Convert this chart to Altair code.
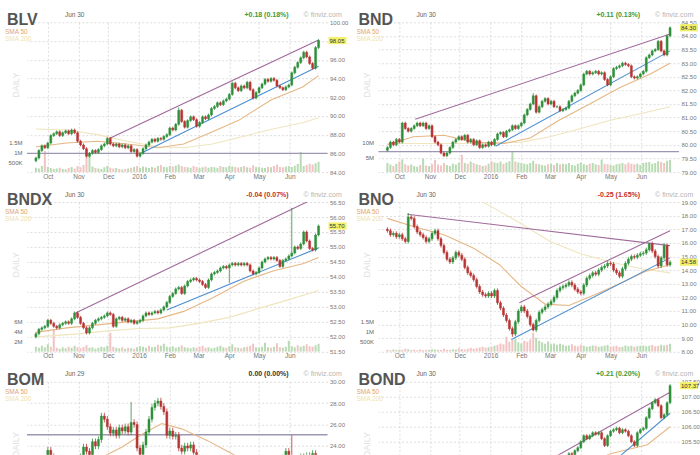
import altair as alt
import pandas as pd

# ---------------- categories (dates / months) ----------------
DATES = pd.date_range("2015-09-19", "2016-06-30", freq="3D")  # 96 sampled sessions
MONTHS = ["2015-10-01", "2015-11-01", "2015-12-01", "2016-01-01", "2016-02-01",
          "2016-03-01", "2016-04-01", "2016-05-01", "2016-06-01"]
X_DOMAIN = ["2015-09-15", "2016-07-04"]

# ---------------- BLV ----------------
BLV_CLOSE = [85.5, 86.3, 86.8, 86.6, 87.1, 87.9, 88.1, 88.3, 87.9, 88.2, 88.4, 88.1,
             88.5, 88.2, 87.3, 86.9, 86.5, 85.7, 86.0, 86.3, 86.1, 86.4, 86.8, 87.0,
             87.6, 87.0, 86.8, 87.0, 86.7, 86.9, 86.6, 86.8, 86.2, 86.4, 85.7, 86.0,
             86.5, 86.9, 87.2, 87.5, 87.3, 87.6, 87.5, 87.8, 88.0, 88.7, 88.5, 89.1,
             90.6, 89.4, 88.8, 89.5, 89.9, 89.6, 88.9, 89.3, 89.9, 89.7, 90.1, 90.8,
             91.0, 91.4, 91.2, 91.6, 91.8, 92.3, 93.5, 93.0, 92.7, 93.2, 93.0, 93.6,
             92.8, 91.9, 92.5, 93.0, 93.4, 93.9, 93.7, 94.0, 93.8, 93.2, 93.0, 92.8,
             93.1, 93.3, 94.6, 95.2, 95.7, 96.2, 96.8, 96.3, 95.6, 95.1, 97.3, 98.05]
BLV_VOL_K = [220, 180, 300, 1050, 250, 200, 150, 180, 220, 160, 140, 200,
             260, 180, 300, 240, 350, 900, 950, 280, 200, 180, 160, 240,
             300, 220, 180, 200, 150, 130, 160, 180, 220, 250, 300, 200,
             280, 240, 200, 260, 220, 300, 350, 260, 240, 300, 280, 320,
             380, 300, 260, 240, 220, 300, 260, 200, 240, 280, 220, 260,
             240, 220, 300, 260, 240, 320, 280, 250, 230, 260, 300, 240,
             220, 340, 260, 240, 220, 200, 260, 240, 300, 380, 260, 240,
             280, 300, 260, 320, 400, 1000, 300, 360, 420, 380, 440, 520]
BLV_SMA50_D = ["2015-09-19", "2015-10-20", "2015-11-20", "2015-12-20", "2016-01-20", "2016-02-15",
               "2016-03-08", "2016-04-10", "2016-05-13", "2016-06-14", "2016-06-30"]
BLV_SMA50 = [86.7, 87.1, 87.3, 87.0, 86.6, 87.0, 88.0, 89.5, 91.7, 93.1, 94.3]
BLV_SMA200_D = ["2015-09-19", "2015-10-20", "2015-11-20", "2015-12-20", "2016-01-20", "2016-02-15",
                "2016-03-15", "2016-04-15", "2016-05-15", "2016-06-15", "2016-06-30"]
BLV_SMA200 = [88.6, 88.5, 88.0, 87.3, 86.7, 86.6, 87.0, 87.8, 88.6, 89.3, 89.8]
BLV_UP_D, BLV_UP = ["2015-12-02", "2016-06-30"], [87.6, 98.1]
BLV_LO_D, BLV_LO = ["2016-01-03", "2016-06-30"], [86.0, 95.3]
BLV_H = [86.0]

# ---------------- BND ----------------
BND_CLOSE = [79.9, 80.1, 80.0, 80.2, 80.1, 80.8, 80.6, 80.5, 80.6, 80.7, 80.8, 80.7,
             80.8, 80.6, 80.7, 80.3, 80.1, 80.0, 79.7, 79.6, 79.7, 79.9, 80.1, 80.2,
             80.3, 80.2, 80.35, 80.1, 80.2, 80.0, 80.15, 79.9, 80.0, 79.95, 80.1, 80.0,
             80.2, 80.4, 80.45, 80.3, 80.5, 80.55, 80.7, 80.6, 80.7, 80.8, 81.1, 81.3,
             81.5, 81.8, 81.2, 81.4, 81.6, 81.7, 81.5, 81.6, 81.4, 81.4, 81.25, 81.3,
             81.35, 81.6, 81.8, 81.9, 82.0, 82.2, 82.6, 82.7, 82.6, 82.65, 82.7, 82.6,
             82.65, 82.4, 82.2, 82.5, 82.8, 82.85, 82.9, 83.0, 82.95, 82.9, 82.5, 82.45,
             82.5, 82.6, 82.7, 83.2, 83.3, 83.45, 83.5, 83.8, 83.45, 83.3, 84.0, 84.3]
BND_VOL_M = [3.0, 2.5, 2.0, 2.8, 3.5, 4.2, 2.6, 2.2, 2.5, 2.0, 1.8, 2.4,
             4.5, 2.2, 2.0, 2.6, 4.0, 2.5, 2.2, 3.0, 2.4, 2.0, 2.8, 2.5,
             3.2, 5.8, 3.0, 2.8, 3.5, 3.0, 2.6, 2.4, 2.0, 2.2, 2.8, 3.6,
             3.2, 3.0, 3.5, 2.8, 3.2, 3.6, 6.8, 3.5, 3.2, 3.0, 2.8, 2.6,
             3.0, 3.8, 2.8, 2.6, 2.4, 2.2, 2.6, 2.8, 2.4, 3.0, 2.6, 2.8,
             2.6, 3.0, 2.4, 2.2, 2.8, 3.2, 2.6, 2.4, 2.8, 3.0, 2.6, 2.4,
             4.2, 2.8, 2.6, 2.4, 2.2, 2.6, 2.8, 3.0, 2.6, 3.2, 2.8, 2.6,
             2.8, 2.4, 3.0, 3.2, 3.4, 2.8, 3.0, 3.6, 3.4, 3.0, 3.8, 4.0]
BND_SMA50_D = ["2015-09-19", "2015-10-15", "2015-11-15", "2015-12-15", "2016-01-15", "2016-02-10",
               "2016-03-10", "2016-04-10", "2016-05-10", "2016-06-10", "2016-06-30"]
BND_SMA50 = [80.0, 80.3, 80.35, 80.1, 80.05, 80.25, 80.9, 81.5, 82.1, 82.6, 83.0]
BND_SMA200_D = ["2015-09-19", "2015-12-01", "2016-02-01", "2016-03-01", "2016-04-01",
                "2016-05-01", "2016-06-01", "2016-06-30"]
BND_SMA200 = [80.05, 80.05, 80.1, 80.3, 80.6, 80.9, 81.15, 81.4]
BND_UP_D, BND_UP = ["2015-10-17", "2016-06-30"], [80.94, 84.07]
BND_LO_D, BND_LO = ["2016-01-06", "2016-06-30"], [79.95, 83.45]
BND_H = [79.75]

# ---------------- BNDX ----------------
BNDX_CLOSE = [52.1, 52.25, 52.3, 52.35, 52.55, 52.45, 52.35, 52.3, 52.4, 52.45, 52.5, 52.45,
              52.6, 52.8, 52.65, 52.45, 52.3, 52.13, 52.3, 52.45, 52.55, 52.6, 52.65, 52.7,
              52.8, 52.75, 52.35, 52.6, 52.65, 52.55, 52.6, 52.5, 52.55, 52.45, 52.5, 52.55,
              52.7, 52.8, 52.75, 52.8, 52.85, 52.8, 52.9, 53.0, 53.15, 53.35, 53.45, 53.6,
              53.65, 53.45, 53.7, 53.85, 53.9, 53.95, 53.9, 53.85, 53.75, 53.65, 53.9, 54.1,
              54.15, 54.2, 54.3, 54.35, 54.3, 54.4, 54.45, 54.4, 54.45, 54.4, 54.45, 54.4,
              54.2, 54.1, 54.15, 54.3, 54.5, 54.6, 54.65, 54.6, 54.65, 54.55, 54.35, 54.55,
              54.6, 54.7, 54.8, 55.0, 54.95, 55.1, 55.5, 55.2, 54.95, 54.9, 55.4, 55.7]
BNDX_VOL_M = [1.0, 0.8, 1.2, 0.9, 1.5, 1.0, 4.4, 0.8, 0.6, 0.9, 0.7, 1.0,
              0.8, 1.2, 0.9, 0.7, 1.0, 1.3, 0.8, 0.9, 0.6, 0.8, 1.0, 0.9,
              1.2, 3.8, 1.0, 0.8, 0.7, 0.9, 0.6, 0.8, 0.7, 0.6, 0.9, 1.1,
              1.0, 0.8, 1.2, 0.9, 1.0, 1.4, 1.2, 1.6, 1.0, 0.9, 1.1, 0.8,
              1.0, 1.3, 0.9, 0.8, 0.7, 0.9, 0.8, 1.0, 1.2, 0.8, 0.9, 0.7,
              0.8, 1.0, 1.2, 0.9, 0.8, 1.1, 1.5, 0.9, 0.8, 0.7, 0.9, 1.0,
              1.2, 1.6, 0.9, 0.8, 1.0, 1.8, 0.9, 0.8, 1.0, 1.7, 0.9, 0.8,
              1.0, 2.2, 1.1, 0.9, 1.3, 1.0, 1.2, 1.5, 1.1, 1.0, 1.3, 1.6]
BNDX_SMA50_D = ["2015-09-19", "2015-10-20", "2015-11-20", "2015-12-20", "2016-01-20", "2016-02-15",
                "2016-03-15", "2016-04-15", "2016-05-15", "2016-06-15", "2016-06-30"]
BNDX_SMA50 = [52.15, 52.3, 52.4, 52.5, 52.6, 52.85, 53.3, 53.85, 54.2, 54.45, 54.65]
BNDX_SMA200_D = ["2015-09-19", "2015-11-01", "2015-12-01", "2016-01-01", "2016-02-01",
                 "2016-03-01", "2016-04-01", "2016-05-01", "2016-06-01", "2016-06-30"]
BNDX_SMA200 = [52.0, 52.1, 52.2, 52.28, 52.3, 52.45, 52.65, 52.95, 53.25, 53.55]
BNDX_UP_D, BNDX_UP = ["2015-10-29", "2016-06-30"], [52.8, 56.69]
BNDX_LO_D, BNDX_LO = ["2016-01-29", "2016-06-30"], [52.9, 54.97]

# ---------------- BNO ----------------
BNO_CLOSE = [16.9, 16.6, 16.7, 16.45, 16.6, 16.3, 16.1, 17.9, 17.8, 17.2, 16.8, 16.6,
             16.4, 16.1, 16.3, 16.7, 16.9, 16.3, 15.8, 15.3, 14.8, 14.6, 14.9, 15.3,
             15.1, 14.8, 14.2, 13.8, 13.6, 13.3, 12.8, 12.4, 12.2, 12.1, 12.3, 12.1,
             12.5, 11.6, 11.2, 10.7, 10.3, 9.7, 9.3, 10.2, 11.0, 11.3, 11.0, 10.6,
             10.0, 9.6, 10.3, 10.9, 11.1, 11.3, 11.5, 11.7, 12.0, 12.5, 12.7, 12.8,
             12.9, 13.1, 12.9, 12.6, 12.4, 12.3, 12.9, 13.4, 13.6, 13.8, 13.7, 14.0,
             14.2, 14.3, 14.5, 14.45, 14.0, 13.8, 13.55, 14.1, 14.5, 14.8, 15.0, 14.95,
             15.1, 15.2, 15.25, 15.5, 15.95, 15.4, 15.0, 14.3, 14.9, 15.8, 14.4, 14.58]
BNO_VOL_K = [100, 80, 120, 90, 110, 100, 150, 130, 90, 100, 80, 120,
             90, 110, 100, 130, 120, 100, 90, 150, 110, 100, 130, 120,
             180, 140, 120, 150, 200, 160, 180, 220, 250, 200, 230, 260,
             300, 350, 420, 380, 750, 500, 600, 650, 480, 420, 560, 500,
             620, 950, 700, 550, 480, 400, 520, 380, 420, 360, 400, 350,
             300, 320, 380, 300, 280, 350, 300, 260, 280, 320, 300, 250,
             280, 300, 340, 260, 280, 300, 240, 260, 320, 280, 300, 260,
             280, 300, 320, 280, 300, 340, 280, 300, 360, 320, 340, 400]
BNO_SMA50_D = ["2015-09-19", "2015-10-15", "2015-11-15", "2015-12-15", "2016-01-10", "2016-02-01",
               "2016-02-25", "2016-03-20", "2016-04-15", "2016-05-10", "2016-06-05", "2016-06-30"]
BNO_SMA50 = [17.8, 17.2, 16.6, 15.6, 14.4, 12.8, 11.5, 11.4, 12.2, 13.0, 13.9, 14.4]
BNO_SMA200_D = ["2015-12-15", "2016-01-01", "2016-02-01", "2016-03-01", "2016-04-01",
                "2016-05-01", "2016-06-01", "2016-06-30"]
BNO_SMA200 = [19.3, 18.7, 17.4, 16.1, 15.2, 14.6, 14.1, 13.8]
BNO_DN_D, BNO_DN = ["2015-10-09", "2016-06-30"], [18.1, 15.8]
BNO_UP_D, BNO_UP = ["2016-01-30", "2016-06-30"], [11.6, 16.9]
BNO_LO_D, BNO_LO = ["2016-01-22", "2016-06-30"], [8.9, 14.9]

# ---------------- BOM ----------------
BOM_CLOSE = [22.0, 22.3, 22.1, 22.5, 23.6, 23.0, 22.4, 22.0, 21.8, 22.2, 22.0, 21.7,
             22.3, 22.6, 22.5, 23.0, 23.9, 23.5, 23.0, 24.4, 24.0, 24.6, 26.8, 26.5,
             25.8, 25.2, 25.5, 25.0, 25.7, 25.4, 25.8, 25.3, 26.2, 26.0, 23.8, 23.2,
             24.1, 25.3, 26.5, 27.6, 28.0, 28.2, 27.7, 27.2, 25.0, 25.4, 24.9, 25.0,
             23.8, 23.5, 24.0, 23.8, 24.1, 23.4, 22.8, 22.0, 21.5, 21.0, 20.8, 21.2,
             20.6, 20.2, 20.5, 20.0, 19.8, 20.3, 20.6, 20.1, 20.4, 20.8, 21.2, 20.9,
             21.3, 21.6, 21.4, 21.8, 22.0, 21.7, 22.1, 22.3, 22.0, 22.4, 22.6, 22.9,
             23.5, 22.8, 22.4, 22.5, 22.8, 23.0, 22.7, 23.1, 23.0, 23.3, 21.8, 21.6]
BOM_SMA50_D = ["2015-09-19", "2015-11-15", "2015-12-15", "2016-01-04", "2016-01-24", "2016-02-13",
               "2016-03-10", "2016-03-30", "2016-04-30", "2016-06-30"]
BOM_SMA50 = [21.5, 22.5, 23.9, 25.1, 26.1, 25.6, 24.5, 23.5, 22.0, 21.5]
BOM_H = [25.05]

# ---------------- BOND ----------------
BOND_CLOSE = [102.9, 103.0, 103.1, 103.0, 103.2, 103.3, 103.2, 103.4, 103.5, 103.4, 103.5, 103.6,
              103.5, 103.4, 103.3, 103.1, 103.0, 102.9, 103.0, 103.1, 103.2, 103.3, 103.4, 103.3,
              103.5, 103.2, 103.4, 103.3, 103.2, 103.4, 103.1, 103.2, 103.3, 103.1, 103.3, 103.5,
              103.6, 103.8, 103.9, 104.0, 103.9, 104.1, 104.2, 104.4, 104.5, 104.7, 104.9, 104.8,
              105.0, 104.6, 104.8, 104.9, 104.7, 104.8, 104.5, 104.6, 104.7, 104.6, 104.8, 104.9,
              105.0, 105.1, 105.0, 105.2, 105.3, 105.5, 105.7, 105.6, 105.7, 105.8, 105.75, 105.8,
              105.6, 105.37, 105.7, 105.85, 105.9, 105.95, 105.8, 105.9, 105.85, 105.7, 105.5, 105.37,
              105.8, 105.9, 105.95, 106.3, 106.6, 106.8, 106.9, 106.7, 106.3, 106.4, 106.8, 107.37]
BOND_SMA50_D = ["2015-09-19", "2015-12-01", "2016-02-01", "2016-03-01", "2016-04-01",
                "2016-05-01", "2016-06-07", "2016-06-30"]
BOND_SMA50 = [103.0, 103.3, 103.5, 104.2, 104.7, 105.1, 105.4, 106.0]
BOND_UP_D, BOND_UP = ["2016-03-01", "2016-06-30"], [104.9, 107.15]
BOND_LO_D, BOND_LO = ["2016-04-15", "2016-06-30"], [104.3, 106.45]

# ---------------- styling ----------------
W = 301
FONT = "Liberation Sans"
GREEN, RED = "#2f8f3a", "#b83434"
VGREEN, VRED = "#b8dbb3", "#f2c3c3"
PURPLE, BLUE, HGRAY = "#a06a9c", "#4d8fd1", "#9d97b3"
SMA50_C, SMA200_C = "#e6b784", "#efe5be"
GRID = "#d4d4d4"


def ms(d):
    return int(pd.Timestamp(d).tz_localize("UTC").value // 10**6)


MONTH_MS = [ms(m) for m in MONTHS]
ONE = pd.DataFrame({"k": [0]})


def candle_frame(close, open0, wick, hi, lo):
    assert len(close) == len(DATES), len(close)
    rows, prev = [], open0
    for i, (d, c) in enumerate(zip(DATES, close)):
        o = prev
        rows.append({"t": ms(d), "o": o, "c": c,
                     "h": hi.get(i, max(o, c) + wick),
                     "l": lo.get(i, min(o, c) - wick),
                     "dir": "up" if c >= o else "down"})
        prev = c
    return pd.DataFrame(rows)


def series(dates, vals):
    return pd.DataFrame({"t": [ms(d) for d in dates], "v": vals})


def txt(text, x, y, size, color, weight="normal", align="left", baseline="middle", angle=0):
    return alt.Chart(ONE).mark_text(text=text, fontSize=size, color=color, fontWeight=weight,
                                    align=align, baseline=baseline, angle=angle, font=FONT
                                    ).encode(x=alt.value(x), y=alt.value(y))


def panel(p, h, show_x):
    yscale = alt.Scale(domain=p["ydom"], nice=False, zero=False)
    yaxis = alt.Axis(orient="right", values=p["yticks"], format=".2f", grid=True, gridColor=GRID,
                     gridDash=[2, 2], gridWidth=0.8, ticks=False, domain=False, labelPadding=2,
                     labelFontSize=6, labelColor="#777", labelFont=FONT, labelFlush=False,
                     labelOverlap=False, title=None, zindex=0)
    xscale = alt.Scale(type="utc", domain=[ms(X_DOMAIN[0]), ms(X_DOMAIN[1])])
    xaxis = alt.Axis(values=MONTH_MS, grid=True, gridColor=GRID, gridDash=[2, 2], gridWidth=0.8,
                     ticks=False, domain=False, labels=show_x, labelPadding=1, labelFontSize=6.5,
                     labelColor="#777", labelFont=FONT, labelFlush=False, labelOverlap=False,
                     labelExpr="utcFormat(datum.value, utcmonth(datum.value) == 0 ? '%Y' : '%b')",
                     title=None, zindex=0)

    def X(f):
        return alt.X(f"{f}:T", scale=xscale, axis=xaxis)

    def Y(f):
        return alt.Y(f"{f}:Q", scale=yscale, axis=yaxis)

    cdf = candle_frame(p["close"], p["open0"], p["wick"], p.get("hi", {}), p.get("lo", {}))
    dir_scale = alt.Scale(domain=["up", "down"], range=[GREEN, RED])

    layers = []
    for v in p.get("hlines", []):
        layers.append(alt.Chart(pd.DataFrame({"v": [v]})).mark_rule(color=HGRAY, strokeWidth=1.3)
                      .encode(y=Y("v")))
    if "sma200" in p:
        layers.append(alt.Chart(series(*p["sma200"])).mark_line(color=SMA200_C, strokeWidth=1.1, clip=True)
                      .encode(x=X("t"), y=Y("v")))
    if "sma50" in p:
        layers.append(alt.Chart(series(*p["sma50"])).mark_line(color=SMA50_C, strokeWidth=1.1, clip=True)
                      .encode(x=X("t"), y=Y("v")))
    for (dts, vals, col) in p.get("trends", []):
        layers.append(alt.Chart(series(dts, vals)).mark_line(color=col, strokeWidth=1.1, clip=True)
                      .encode(x=X("t"), y=Y("v")))
    layers.append(alt.Chart(cdf).mark_rule(strokeWidth=0.8, clip=True).encode(
        x=X("t"), y=Y("l"), y2=alt.Y2("h"), color=alt.Color("dir:N", scale=dir_scale, legend=None)))
    layers.append(alt.Chart(cdf).mark_bar(size=2, clip=True, strokeWidth=0.5).encode(
        x=X("t"), y=Y("o"), y2=alt.Y2("c"),
        color=alt.Color("dir:N", scale=dir_scale, legend=None),
        stroke=alt.Stroke("dir:N", scale=dir_scale, legend=None)))
    if p.get("label"):
        last = p["close"][-1]
        ldf = pd.DataFrame({"p": [last], "lab": [f"{last:.2f}"]})
        layers.append(alt.Chart(ldf).mark_point(shape="M-1,-0.4L1,-0.4L1,0.4L-1,0.4Z", size=324,
                                                filled=True, color="#f3f06a", opacity=1, strokeWidth=0)
                      .encode(x=alt.value(W + 10), y=Y("p")))
        layers.append(alt.Chart(ldf).mark_text(align="left", baseline="middle", fontSize=6, color="#333",
                                               font=FONT)
                      .encode(x=alt.value(W + 2), y=Y("p"), text="lab:N"))
    layers += [
        txt(p["name"], -20, 3, 16, "#555", weight="bold", baseline="alphabetic"),
        txt(p["date"], 38, -7.5, 6.5, "#666"),
        txt(p["chg"], 262, -7.5, 7, p["chg_color"], weight="bold", align="right"),
        txt("\u00a9 finviz.com", 277, -7.5, 7, "#b5b5b5"),
        txt("SMA 50", -22, 10, 6.5, "#e3a76c"),
        txt("SMA 200", -22, 17, 6.5, "#efe2ad"),
        txt("DAILY", -11, 63, 9, "#e0e0e0", align="center", angle=270),
    ]
    price = alt.layer(*layers)
    if "vol" in p:
        vdf = pd.DataFrame({"t": cdf["t"], "v": p["vol"], "dir": cdf["dir"]})
        vol = alt.Chart(vdf).mark_bar(size=2, clip=True).encode(
            x=X("t"),
            y=alt.Y("v:Q", scale=alt.Scale(domain=[0, p["vmax"]], nice=False, zero=True),
                    axis=alt.Axis(orient="left", values=p["vticks"], grid=False, ticks=False, domain=False,
                                  labelPadding=5, labelFontSize=6, labelColor="#666", labelFont=FONT,
                                  labelOverlap=False, labelFlush=False, title=None,
                                  labelExpr="datum.value >= 1000000 ? format(datum.value / 1000000, '.2~f') + 'M' : format(datum.value / 1000, 'd') + 'K'")),
            color=alt.Color("dir:N", scale=alt.Scale(domain=["up", "down"], range=[VGREEN, VRED]), legend=None))
        ch = alt.layer(vol, price).resolve_scale(y="independent", color="independent")
    else:
        ch = price
    return ch.properties(width=W, height=h)


def ticks(lo, hi, step):
    n = int(round((hi - lo) / step))
    return [round(lo + k * step, 2) for k in range(n + 1)]


BOTTOM_H = 73
P_BLV = dict(name="BLV", date="Jun 30", chg="+0.18 (0.18%)", chg_color="#3a9a3a", close=BLV_CLOSE,
             open0=85.2, wick=0.15, hi={48: 90.9}, ydom=[84, 100], yticks=ticks(84, 100, 2),
             vol=[v * 1000 for v in BLV_VOL_K], vmax=7.5e6, vticks=[500000, 1000000, 1500000],
             sma50=(BLV_SMA50_D, BLV_SMA50), sma200=(BLV_SMA200_D, BLV_SMA200),
             trends=[(BLV_UP_D, BLV_UP, PURPLE), (BLV_LO_D, BLV_LO, BLUE)], hlines=BLV_H, label=True)
P_BND = dict(name="BND", date="Jun 30", chg="+0.11 (0.13%)", chg_color="#3a9a3a", close=BND_CLOSE,
             open0=79.8, wick=0.05, hi={49: 81.9}, ydom=[79, 84.5], yticks=ticks(79, 84.5, 0.5),
             vol=[v * 1e6 for v in BND_VOL_M], vmax=50e6, vticks=[5000000, 10000000],
             sma50=(BND_SMA50_D, BND_SMA50), sma200=(BND_SMA200_D, BND_SMA200),
             trends=[(BND_UP_D, BND_UP, PURPLE), (BND_LO_D, BND_LO, BLUE)], hlines=BND_H, label=True)
P_BNDX = dict(name="BNDX", date="Jun 30", chg="-0.04 (0.07%)", chg_color="#c03030", close=BNDX_CLOSE,
              open0=52.0, wick=0.05, hi={86: 56.3}, lo={65: 53.8}, ydom=[51.5, 56.5],
              yticks=ticks(51.5, 56.5, 0.5), vol=[v * 1e6 for v in BNDX_VOL_M], vmax=30e6,
              vticks=[2000000, 4000000, 6000000],
              sma50=(BNDX_SMA50_D, BNDX_SMA50), sma200=(BNDX_SMA200_D, BNDX_SMA200),
              trends=[(BNDX_UP_D, BNDX_UP, PURPLE), (BNDX_LO_D, BNDX_LO, BLUE)], label=True)
P_BNO = dict(name="BNO", date="Jun 30", chg="-0.25 (1.65%)", chg_color="#c03030", close=BNO_CLOSE,
             open0=17.0, wick=0.15, hi={7: 18.2, 88: 16.0, 93: 16.0}, lo={42: 9.1, 49: 9.5},
             ydom=[8, 19], yticks=ticks(8, 19, 1), vol=[v * 1000 for v in BNO_VOL_K], vmax=7.5e6,
             vticks=[500000, 1000000, 1500000],
             sma50=(BNO_SMA50_D, BNO_SMA50), sma200=(BNO_SMA200_D, BNO_SMA200),
             trends=[(BNO_DN_D, BNO_DN, PURPLE), (BNO_UP_D, BNO_UP, PURPLE), (BNO_LO_D, BNO_LO, BLUE)],
             label=True)
P_BOM = dict(name="BOM", date="Jun 29", chg="0.00 (0.00%)", chg_color="#333", close=BOM_CLOSE,
             open0=21.8, wick=0.3, hi={32: 28.1, 86: 25.0},
             ydom=[30 - BOTTOM_H / 150 * 14, 30], yticks=[24, 26, 28, 30],
             sma50=(BOM_SMA50_D, BOM_SMA50), hlines=BOM_H, label=False)
P_BOND = dict(name="BOND", date="Jun 30", chg="+0.21 (0.20%)", chg_color="#3a9a3a", close=BOND_CLOSE,
              open0=102.8, wick=0.05, ydom=[107.5 - BOTTOM_H / 150 * 5, 107.5],
              yticks=[105.5, 106.0, 106.5, 107.0, 107.5],
              sma50=(BOND_SMA50_D, BOND_SMA50),
              trends=[(BOND_UP_D, BOND_UP, PURPLE), (BOND_LO_D, BOND_LO, BLUE)], label=True)

panels = [panel(P_BLV, 150, True), panel(P_BND, 150, True),
          panel(P_BNDX, 150, True), panel(P_BNO, 150, True),
          panel(P_BOM, BOTTOM_H, False), panel(P_BOND, BOTTOM_H, False)]

chart = (alt.concat(*panels, columns=2, spacing={"row": 30, "column": 51}, bounds="flush")
         .properties(padding={"left": 5, "top": 10, "right": 0, "bottom": 0}, background="white")
         .configure_view(stroke=None))

chart.save("out.html", embed_options={"renderer": "svg", "actions": False})
